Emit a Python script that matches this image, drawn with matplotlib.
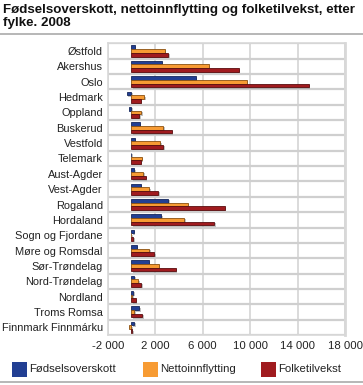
import matplotlib
matplotlib.use("Agg")
import matplotlib.pyplot as plt
import numpy as np
from matplotlib.patches import Rectangle
import matplotlib.patheffects as pe

plt.rcParams['font.family'] = ['Liberation Sans', 'DejaVu Sans']

categories = ["Østfold", "Akershus", "Oslo", "Hedmark", "Oppland", "Buskerud",
              "Vestfold", "Telemark", "Aust-Agder", "Vest-Agder", "Rogaland",
              "Hordaland", "Sogn og Fjordane", "Møre og Romsdal", "Sør-Trøndelag",
              "Nord-Trøndelag", "Nordland", "Troms Romsa", "Finnmark Finnmárku"]
fodselsoverskott = [280, 2580, 5420, -370, -200, 730, 280, -30, 250, 780,
                    3120, 2520, 220, 470, 1460, 250, 170, 670, 250]
nettoinnflytting = [2800, 6500, 9710, 1090, 840, 2690, 2440, 870, 1010, 1510,
                    4770, 4460, -50, 1510, 2300, 590, 80, 250, -170]
folketilvekst = [3100, 9040, 14960, 810, 670, 3390, 2690, 810, 1200, 2270,
                 7890, 6990, 170, 1940, 3730, 840, 360, 930, 80]
series_names = ["Fødselsoverskott", "Nettoinnflytting", "Folketilvekst"]
tick_values = [-2000, 2000, 6000, 10000, 14000, 18000]
tick_labels = ["-2 000", "2 000", "6 000", "10 000", "14 000", "18 000"]

colors = ["#223f93", "#f79b33", "#a01b1f"]
edges = ["#14265c", "#8a5010", "#5a0d0f"]

W, H = 363, 385
fig = plt.figure(figsize=(W/100, H/100), dpi=100)

ax = fig.add_axes([107.7/W, 1-335/H, (345-107.7)/W, (335-43.3)/H])
n = len(categories)
y = np.arange(n)
bh = 0.24
shadow = [pe.SimplePatchShadow(offset=(1, -1), shadow_rgbFace='#999999', alpha=0.6), pe.Normal()]
for i, (vals, c, e) in enumerate(zip([fodselsoverskott, nettoinnflytting, folketilvekst], colors, edges)):
    ax.barh(y + (i-1)*bh, vals, height=bh, color=c, edgecolor=e, linewidth=0.6,
            path_effects=shadow, zorder=3)

ax.set_xlim(-2000, 18000)
ax.set_ylim(n-0.5, -0.5)
ax.set_xticks(tick_values)
ax.set_xticklabels(tick_labels, fontsize=8.2, color="#222222")
ax.set_yticks(y)
ax.set_yticklabels(categories, fontsize=7.9, color="#222222")
ax.tick_params(length=0)
ax.tick_params(axis='y', pad=3.5)
ax.tick_params(axis='x', pad=4)
for v in tick_values:
    ax.axvline(v, color="#d4d4d4", lw=1.2, zorder=1)
for b in np.arange(n+1) - 0.5:
    ax.axhline(b, color="#cfcfcf", lw=1.6, zorder=1)
for s in ax.spines.values():
    s.set_color("#d8d8d8")
    s.set_linewidth(1.2)
ax.spines['right'].set_linewidth(2)

# title
fig.text(3/W, 1-4/H, "Fødselsoverskott, nettoinnflytting og folketilvekst, etter\nfylke. 2008",
         ha='left', va='top', fontsize=9.6, fontweight='bold', color="#111111", linespacing=1.1)
fig.add_artist(plt.Line2D([0, 1], [1-33.5/H, 1-33.5/H], color="#aaaaaa", lw=1.2))
fig.add_artist(plt.Line2D([0, 1], [1-382/H, 1-382/H], color="#aaaaaa", lw=1.2))

# legend
leg_x = [12, 143, 261]
for name, c, x0 in zip(series_names, colors, leg_x):
    fig.add_artist(Rectangle((x0/W, 1-377/H), 15/W, 15/H, transform=fig.transFigure,
                             facecolor=c, edgecolor='none'))
    fig.text((x0+17)/W, 1-369.5/H, name, ha='left', va='center', fontsize=8.2, color="#222222")

fig.savefig("out.png", dpi=100)
